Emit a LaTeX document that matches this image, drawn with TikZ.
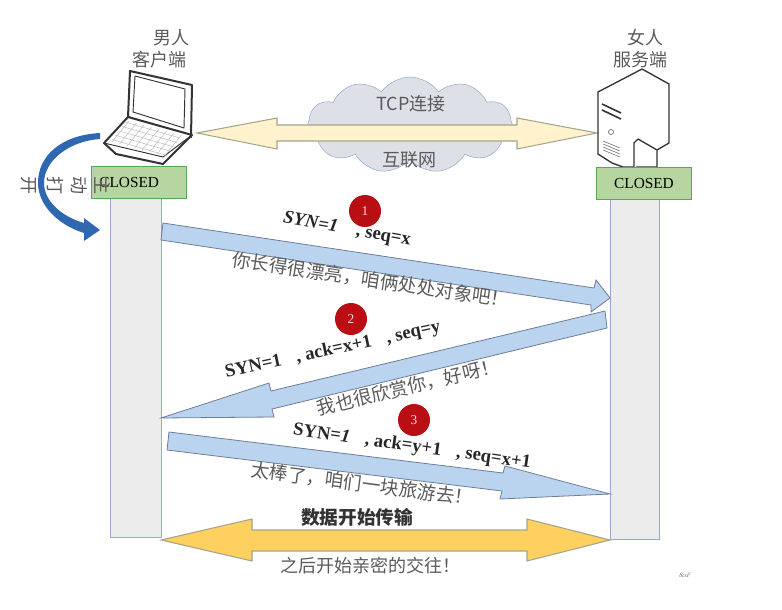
\documentclass[tikz,border=0pt]{standalone}
\usepackage{fontspec}
\setmainfont{Liberation Serif}
\newfontfamily\cjk{Noto Sans CJK SC}
\usetikzlibrary{shapes.symbols}
\definecolor{barfill}{RGB}{236,236,236}
\definecolor{barline}{RGB}{150,170,205}
\definecolor{stategreen}{RGB}{183,213,160}
\definecolor{arrowblue}{RGB}{186,211,238}
\definecolor{arrowline}{RGB}{110,125,150}
\definecolor{linkcream}{RGB}{255,242,204}
\definecolor{linkline}{RGB}{165,165,140}
\definecolor{datayellow}{RGB}{253,208,95}
\definecolor{cloudgrey}{RGB}{222,224,232}
\definecolor{turnblue}{RGB}{47,103,176}
\definecolor{badgered}{RGB}{185,15,20}
\definecolor{captiongrey}{RGB}{90,90,90}
\tikzset{
  lifebar/.style={draw=barline,fill=barfill,line width=0.7pt},
  statebox/.style={draw=gray!70!green,fill=stategreen,minimum width=71pt,minimum height=24pt,inner sep=0pt,font=\fontsize{11.5}{11.5}\selectfont},
  msgarrow/.style={draw=arrowline,fill=arrowblue,line width=0.6pt,line join=miter},
  badge/.style={circle,fill=badgered,text=white!85!red,minimum size=24pt,inner sep=0pt,font=\fontsize{10}{10}\selectfont},
  caption/.style={text=captiongrey,font=\cjk\fontsize{13.5}{16}\selectfont,inner sep=0pt,align=center},
  saying/.style={caption,font=\cjk\fontsize{14}{16}\selectfont},
  flag/.style={text=black!85,font=\fontsize{14}{14}\selectfont\bfseries,inner sep=0pt},
  device/.style={draw=black!80,fill=white,line join=round}
}
\begin{document}
\begin{tikzpicture}[x=0.75pt,y=-0.75pt]
  \useasboundingbox (0,0) rectangle (782,610);
  % life lines
  \draw[lifebar] (110,197) rectangle (161,537);
  \draw[lifebar] (610,199) rectangle (659,539);
  % cloud and link
  \node[cloud,cloud puffs=11,cloud puff arc=110,aspect=2.1,draw=barline,fill=cloudgrey,minimum width=154pt,minimum height=72pt,inner sep=0pt] (net) at (410,125) {};
  \node[caption] (tcp) at (411,104) {TCP连接};
  \node[caption] (web) at (409,160) {互联网};
  \draw[draw=linkline,fill=linkcream,line width=0.8pt] (197,133) -- (277,118) -- (277,125) -- (517,125) -- (517,118) -- (597,133) -- (517,149) -- (517,141) -- (277,141) -- (277,149) -- cycle;
  % client
  \draw[device,line width=1.5pt] (130,71) -- (192,85) -- (191,137) -- (128,117) -- cycle;
  \draw[device,line width=0.7pt] (135,76) -- (185,89) -- (184,128) -- (133,112) -- cycle;
  \draw[device,line width=1.5pt] (128,117) -- (192,135) -- (163,164) -- (116,154) -- (104,143) -- cycle;
  \draw[black!80,line width=0.7pt] (104,143) -- (163,157) -- (192,135);
  \foreach \n in {0,...,4} \draw[gray!50] ({125-\n*3.2},{122+\n*4.4}) -- ({180-\n*3.2},{138+\n*4.4});
  \foreach \n in {0,...,7} \draw[gray!50] ({129+\n*7.5},{121+\n*2}) -- ({112+\n*7.5},{142+\n*2});
  % server
  \draw[device,line width=1pt] (642,69) -- (669,84) -- (669,143) -- (657,150) -- (657,167) -- (623,167) -- (612,163) -- (598,154) -- (598,92) -- cycle;
  \draw[device,line width=1pt] (634,168) -- (634,143) -- (638,139) -- (657,150);
  \foreach \y in {0,6} \draw[black!80,line width=1.2pt] (602,{104+\y}) -- (621,{113+\y});
  \draw[black!70] (611,132) circle (2.5);
  \foreach \y in {0,3,6,9} \draw[black!60] (603,{141+\y}) -- (620,{148+\y});
  \node[caption] (man) at (171,38) {男人};
  \node[caption] (client) at (159,60) {客户端};
  \node[caption] (woman) at (645,38) {女人};
  \node[caption] (serverlabel) at (640,60) {服务端};
  % states
  \node[statebox] (closedleft) at (138.5,182) {\hspace*{-14pt}CLOSED};
  \node[statebox] (closedright) at (644,183.5) {CLOSED};
  % active open
  \fill[turnblue] (100,133) .. controls (62,135) and (38,155) .. (38,183) .. controls (38,205) and (58,225) .. (84,233) -- (84,241) -- (100,230) -- (84,218) -- (84,223) .. controls (60,216) and (44,200) .. (44,183) .. controls (44,160) and (70,141) .. (100,139) -- cycle;
  \foreach \name/\t/\x in {zhu/主/103,dong/动/79,da/打/55,kai/开/29} \node[caption,rotate=-90] (\name) at (\x,185) {\t};
  % handshake
  \draw[msgarrow] (163,223) -- (594,288) -- (596,280) -- (610,298) -- (591,312) -- (591,305) -- (161,240) -- cycle;
  \draw[msgarrow] (605,311) -- (607,328) -- (272,409) -- (274,417) -- (161,418) -- (269,383) -- (271,391) -- cycle;
  \draw[msgarrow] (169,432) -- (503,473) -- (505,466) -- (610,494) -- (500,499) -- (502,491) -- (167,450) -- cycle;
  \node[badge] (one) at (365,211) {1};
  \node[badge] (two) at (351,319) {2};
  \node[badge] (three) at (414,420) {3};
  \node[flag,rotate=-10] (first) at (347,230) {\textit{SYN=1}\hspace{1em}, seq=x};
  \node[flag,rotate=12] (second) at (333,350) {SYN=1\hspace{0.8em}, ack=x+1\hspace{0.8em}, seq=y};
  \node[flag,rotate=-8] (third) at (412,447) {SYN=\textit{1}\hspace{0.8em}, ack=y+1\hspace{0.8em}, seq=x+1};
  \node[saying,rotate=-8.5] (firstsay) at (371,280) {你长得很漂亮，咱俩处处对象吧！};
  \node[saying,rotate=13.5] (secondsay) at (408,387) {我也很欣赏你，好呀！};
  \node[saying,rotate=-7.5] (thirdsay) at (362,484) {太棒了，咱们一块旅游去！};
  % data
  \draw[draw=linkline,fill=datayellow,line width=0.8pt] (161,540) -- (252,519) -- (252,530) -- (527,530) -- (527,519) -- (610,540) -- (527,561) -- (527,551) -- (252,551) -- (252,561) -- cycle;
  \node[caption,text=black!80,font=\cjk\bfseries\fontsize{14}{16}\selectfont] (datastart) at (357,517) {数据开始传输};
  \node[caption] (after) at (370,566) {之后开始亲密的交往！};
  \node[text=gray,inner sep=0pt,font=\fontsize{5}{5}\selectfont\itshape] (mark) at (685,575) {\&sF};
\end{tikzpicture}
\end{document}
